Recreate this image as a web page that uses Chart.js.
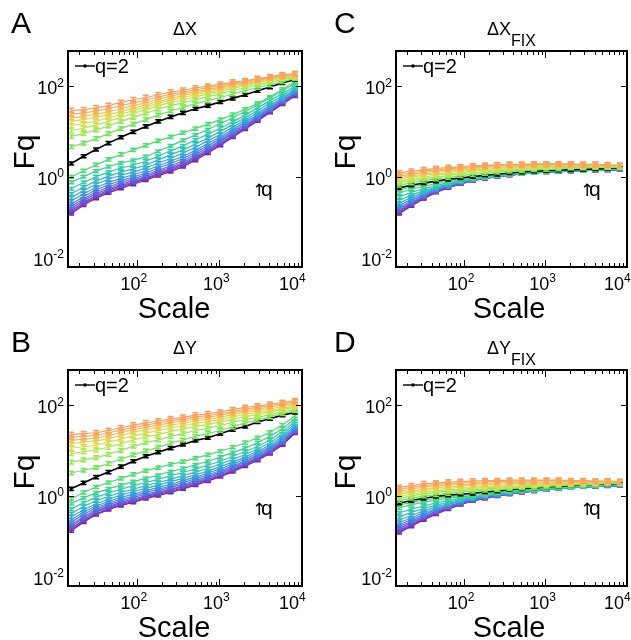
<!DOCTYPE html>
<html>
<head>
<meta charset="utf-8">
<script src="https://cdn.jsdelivr.net/npm/chart.js@4.4.1/dist/chart.umd.min.js"></script>
<style>
  html, body { margin: 0; padding: 0; background: #fff; }
  #wrap { position: relative; width: 631px; height: 640px; overflow: hidden; }
  canvas { position: absolute; }
</style>
</head>
<body>
<div id="wrap">
  <canvas id="panelA" width="316" height="320" style="left:0;top:0"></canvas>
  <canvas id="panelB" width="316" height="320" style="left:0;top:320px"></canvas>
  <canvas id="panelC" width="315" height="320" style="left:316px;top:0"></canvas>
  <canvas id="panelD" width="315" height="320" style="left:316px;top:320px"></canvas>
</div>
<script>
// Window sizes (scale) used by the fluctuation analysis
const scales = [16, 22.6, 32, 45.3, 64, 90.5, 128, 181, 256, 362, 512, 724, 1024, 1448, 2048, 2896, 4096, 5793, 8192];
// Moment orders, one curve each
const qValues = [-10, -9, -8, -7, -6, -5, -4, -3, -2, -1, 0, 1, 2, 3, 4, 5, 6, 7, 8, 9, 10];
// Half-width of the error bars, in decades, per q
const fqErr = [0.03, 0.03, 0.03, 0.03, 0.03, 0.03, 0.03, 0.03, 0.03, 0.03, 0.03, 0.035, 0.035, 0.04, 0.04, 0.045, 0.045, 0.05, 0.05, 0.05, 0.05];
// Axis tick exponents
const xTickExp = [2, 3, 4];
const yTickExp = [-2, 0, 2];

// log10(Fq), one row per q (q = -10 ... 10), one column per scale
const log10FqDX = [
  [-0.82,-0.63,-0.48,-0.36,-0.26,-0.17,-0.08,0.02,0.11,0.22,0.36,0.52,0.69,0.87,1.05,1.23,1.42,1.60,1.78],
  [-0.79,-0.60,-0.45,-0.33,-0.23,-0.14,-0.05,0.05,0.14,0.25,0.39,0.55,0.71,0.89,1.07,1.25,1.44,1.62,1.79],
  [-0.75,-0.57,-0.42,-0.30,-0.20,-0.12,-0.03,0.07,0.17,0.28,0.42,0.57,0.74,0.91,1.09,1.27,1.45,1.63,1.81],
  [-0.71,-0.53,-0.38,-0.27,-0.17,-0.09,0.00,0.11,0.20,0.31,0.45,0.60,0.77,0.94,1.11,1.29,1.47,1.65,1.83],
  [-0.66,-0.49,-0.34,-0.23,-0.13,-0.05,0.04,0.14,0.24,0.35,0.49,0.64,0.80,0.97,1.14,1.31,1.49,1.67,1.84],
  [-0.61,-0.44,-0.29,-0.18,-0.09,-0.01,0.08,0.19,0.29,0.40,0.53,0.68,0.84,1.00,1.17,1.34,1.52,1.69,1.87],
  [-0.54,-0.38,-0.24,-0.13,-0.04,0.04,0.13,0.24,0.34,0.45,0.58,0.73,0.88,1.04,1.21,1.37,1.55,1.72,1.89],
  [-0.47,-0.31,-0.17,-0.06,0.03,0.10,0.19,0.30,0.40,0.52,0.65,0.79,0.93,1.09,1.25,1.41,1.58,1.75,1.92],
  [-0.38,-0.23,-0.10,0.01,0.10,0.17,0.25,0.37,0.48,0.59,0.72,0.85,1.00,1.15,1.30,1.46,1.63,1.79,1.96],
  [-0.27,-0.13,0.00,0.10,0.19,0.25,0.34,0.45,0.57,0.68,0.81,0.94,1.07,1.21,1.36,1.52,1.68,1.84,2.00],
  [-0.13,0.00,0.12,0.22,0.30,0.36,0.44,0.56,0.68,0.80,0.92,1.04,1.17,1.30,1.44,1.59,1.74,1.90,2.06],
  [-0.01,0.13,0.26,0.38,0.49,0.59,0.69,0.79,0.88,0.97,1.06,1.16,1.26,1.37,1.49,1.62,1.76,1.93,2.10],
  [0.29,0.45,0.60,0.74,0.87,0.99,1.11,1.22,1.32,1.41,1.50,1.57,1.65,1.73,1.81,1.90,1.98,2.07,2.15],
  [0.66,0.74,0.84,0.95,1.06,1.16,1.26,1.36,1.45,1.53,1.61,1.68,1.75,1.83,1.90,1.97,2.03,2.10,2.17],
  [0.89,0.95,1.03,1.12,1.22,1.31,1.40,1.49,1.57,1.63,1.70,1.77,1.83,1.905,1.965,2.03,2.085,2.145,2.19],
  [1.02,1.07,1.14,1.22,1.31,1.40,1.48,1.57,1.64,1.70,1.765,1.83,1.885,1.955,2.01,2.07,2.12,2.175,2.205],
  [1.13,1.17,1.23,1.30,1.38,1.46,1.54,1.62,1.69,1.75,1.81,1.87,1.92,1.985,2.035,2.09,2.14,2.19,2.22],
  [1.22,1.26,1.31,1.37,1.44,1.51,1.58,1.66,1.73,1.79,1.845,1.90,1.95,2.01,2.055,2.11,2.155,2.205,2.235],
  [1.30,1.33,1.38,1.43,1.50,1.57,1.63,1.71,1.78,1.83,1.88,1.93,1.98,2.04,2.08,2.13,2.175,2.22,2.25],
  [1.38,1.41,1.45,1.50,1.57,1.63,1.69,1.76,1.82,1.87,1.92,1.97,2.01,2.06,2.10,2.15,2.19,2.235,2.265],
  [1.46,1.48,1.52,1.57,1.64,1.70,1.75,1.81,1.87,1.91,1.96,2.00,2.04,2.09,2.12,2.17,2.21,2.25,2.28]
];

const log10FqDY = [
  [-0.78,-0.59,-0.42,-0.31,-0.22,-0.15,-0.07,0.00,0.07,0.15,0.23,0.32,0.42,0.53,0.65,0.78,0.93,1.12,1.38],
  [-0.75,-0.56,-0.40,-0.29,-0.20,-0.13,-0.05,0.02,0.09,0.17,0.25,0.34,0.44,0.55,0.67,0.80,0.95,1.14,1.40],
  [-0.72,-0.54,-0.37,-0.26,-0.18,-0.10,-0.03,0.05,0.12,0.20,0.28,0.36,0.46,0.57,0.69,0.82,0.97,1.16,1.41],
  [-0.68,-0.50,-0.34,-0.24,-0.15,-0.08,0.00,0.07,0.14,0.22,0.30,0.39,0.49,0.60,0.71,0.84,0.99,1.18,1.43],
  [-0.64,-0.47,-0.31,-0.20,-0.12,-0.04,0.03,0.10,0.18,0.25,0.33,0.42,0.52,0.63,0.74,0.87,1.02,1.20,1.45],
  [-0.59,-0.42,-0.27,-0.17,-0.08,-0.01,0.07,0.14,0.21,0.29,0.37,0.46,0.55,0.66,0.77,0.90,1.05,1.23,1.48],
  [-0.54,-0.37,-0.23,-0.13,-0.04,0.03,0.11,0.18,0.25,0.33,0.41,0.50,0.59,0.70,0.81,0.94,1.08,1.26,1.51],
  [-0.47,-0.32,-0.18,-0.08,0.01,0.09,0.16,0.23,0.31,0.38,0.46,0.54,0.64,0.74,0.85,0.98,1.12,1.30,1.54],
  [-0.40,-0.24,-0.11,-0.02,0.07,0.14,0.22,0.29,0.36,0.44,0.52,0.60,0.70,0.80,0.91,1.03,1.17,1.35,1.59],
  [-0.30,-0.16,-0.04,0.06,0.14,0.22,0.29,0.36,0.44,0.51,0.59,0.67,0.76,0.87,0.97,1.09,1.23,1.41,1.64],
  [-0.18,-0.05,0.06,0.15,0.23,0.31,0.38,0.45,0.53,0.60,0.68,0.76,0.85,0.95,1.05,1.17,1.31,1.48,1.70],
  [-0.07,0.07,0.19,0.29,0.38,0.47,0.55,0.62,0.69,0.75,0.83,0.90,0.98,1.07,1.17,1.28,1.40,1.56,1.76],
  [0.15,0.28,0.41,0.52,0.64,0.76,0.87,0.96,1.05,1.13,1.22,1.28,1.37,1.46,1.53,1.63,1.70,1.78,1.84],
  [0.50,0.56,0.62,0.71,0.81,0.90,0.99,1.07,1.16,1.23,1.31,1.37,1.44,1.52,1.61,1.67,1.74,1.81,1.88],
  [0.74,0.79,0.84,0.91,1.00,1.09,1.17,1.23,1.31,1.37,1.44,1.49,1.55,1.62,1.68,1.73,1.79,1.85,1.91],
  [0.93,0.97,1.01,1.07,1.15,1.23,1.30,1.35,1.42,1.47,1.53,1.57,1.63,1.69,1.75,1.79,1.85,1.90,1.95],
  [1.05,1.08,1.11,1.18,1.25,1.32,1.38,1.44,1.50,1.54,1.60,1.64,1.68,1.74,1.80,1.84,1.88,1.93,1.98],
  [1.15,1.18,1.21,1.26,1.33,1.40,1.46,1.50,1.56,1.60,1.65,1.69,1.73,1.79,1.84,1.88,1.92,1.97,2.01],
  [1.22,1.25,1.27,1.33,1.39,1.46,1.51,1.56,1.61,1.65,1.70,1.73,1.78,1.83,1.88,1.91,1.96,2.00,2.04],
  [1.29,1.31,1.33,1.39,1.45,1.51,1.56,1.61,1.66,1.69,1.74,1.77,1.81,1.86,1.91,1.95,1.99,2.03,2.07],
  [1.35,1.37,1.39,1.44,1.50,1.56,1.61,1.65,1.70,1.73,1.78,1.81,1.85,1.90,1.95,1.98,2.02,2.06,2.10]
];

const log10FqDXfix = [
  [-0.82,-0.65,-0.49,-0.35,-0.25,-0.16,-0.09,-0.04,0.00,0.03,0.06,0.08,0.10,0.11,0.12,0.13,0.14,0.14,0.15],
  [-0.80,-0.63,-0.48,-0.34,-0.24,-0.16,-0.088,-0.039,0.001,0.031,0.06,0.08,0.10,0.11,0.12,0.13,0.14,0.141,0.152],
  [-0.77,-0.61,-0.46,-0.33,-0.24,-0.15,-0.085,-0.037,0.002,0.032,0.061,0.081,0.101,0.111,0.121,0.131,0.141,0.143,0.153],
  [-0.75,-0.59,-0.45,-0.32,-0.23,-0.15,-0.082,-0.035,0.003,0.033,0.062,0.082,0.102,0.112,0.122,0.132,0.142,0.144,0.155],
  [-0.71,-0.57,-0.43,-0.31,-0.22,-0.14,-0.079,-0.033,0.005,0.035,0.062,0.082,0.102,0.112,0.122,0.132,0.142,0.146,0.157],
  [-0.68,-0.54,-0.40,-0.29,-0.21,-0.13,-0.075,-0.031,0.006,0.036,0.063,0.083,0.103,0.113,0.123,0.133,0.143,0.148,0.159],
  [-0.64,-0.50,-0.38,-0.27,-0.19,-0.12,-0.07,-0.028,0.008,0.038,0.064,0.084,0.104,0.114,0.124,0.134,0.144,0.15,0.162],
  [-0.59,-0.46,-0.35,-0.25,-0.18,-0.11,-0.065,-0.025,0.010,0.040,0.065,0.085,0.105,0.115,0.125,0.135,0.145,0.153,0.165],
  [-0.53,-0.41,-0.31,-0.23,-0.16,-0.10,-0.058,-0.021,0.013,0.043,0.066,0.086,0.106,0.116,0.126,0.136,0.146,0.156,0.169],
  [-0.45,-0.35,-0.27,-0.20,-0.14,-0.09,-0.05,-0.016,0.016,0.046,0.068,0.088,0.108,0.118,0.128,0.138,0.148,0.16,0.174],
  [-0.36,-0.28,-0.21,-0.16,-0.11,-0.07,-0.04,-0.01,0.02,0.05,0.07,0.09,0.11,0.12,0.13,0.14,0.15,0.165,0.18],
  [-0.30,-0.23,-0.17,-0.12,-0.08,-0.05,-0.02,0.01,0.03,0.06,0.08,0.10,0.12,0.13,0.14,0.15,0.16,0.17,0.185],
  [-0.25,-0.19,-0.14,-0.10,-0.06,-0.03,0.00,0.03,0.05,0.08,0.10,0.12,0.13,0.14,0.15,0.16,0.17,0.18,0.19],
  [-0.19,-0.14,-0.09,-0.05,-0.02,0.02,0.05,0.07,0.10,0.12,0.13,0.15,0.16,0.17,0.19,0.19,0.20,0.20,0.20],
  [-0.14,-0.09,-0.05,-0.01,0.02,0.06,0.09,0.11,0.13,0.15,0.16,0.18,0.19,0.20,0.20,0.20,0.21,0.21,0.21],
  [-0.10,-0.05,-0.01,0.03,0.06,0.09,0.12,0.14,0.16,0.18,0.19,0.20,0.21,0.22,0.22,0.22,0.23,0.22,0.22],
  [-0.06,-0.01,0.03,0.06,0.09,0.12,0.15,0.16,0.18,0.20,0.21,0.22,0.23,0.23,0.24,0.23,0.24,0.23,0.23],
  [-0.03,0.02,0.05,0.09,0.12,0.14,0.17,0.19,0.20,0.22,0.22,0.24,0.24,0.25,0.25,0.24,0.25,0.24,0.235],
  [0.01,0.05,0.09,0.12,0.15,0.17,0.20,0.21,0.23,0.24,0.24,0.25,0.26,0.26,0.26,0.25,0.26,0.25,0.24],
  [0.04,0.08,0.12,0.15,0.17,0.20,0.22,0.23,0.25,0.26,0.26,0.27,0.27,0.27,0.27,0.26,0.26,0.25,0.245],
  [0.08,0.12,0.15,0.18,0.20,0.22,0.24,0.25,0.26,0.27,0.27,0.28,0.28,0.28,0.28,0.27,0.27,0.26,0.25]
];

const log10FqDYfix = [
  [-0.82,-0.68,-0.54,-0.41,-0.30,-0.20,-0.12,-0.06,-0.01,0.03,0.07,0.10,0.13,0.15,0.17,0.19,0.20,0.21,0.22],
  [-0.79,-0.66,-0.52,-0.40,-0.29,-0.19,-0.11,-0.06,-0.007,0.033,0.072,0.101,0.131,0.151,0.171,0.191,0.201,0.212,0.222],
  [-0.77,-0.63,-0.50,-0.38,-0.28,-0.18,-0.11,-0.05,-0.003,0.036,0.074,0.103,0.132,0.152,0.172,0.192,0.202,0.213,0.223],
  [-0.73,-0.60,-0.48,-0.36,-0.26,-0.17,-0.10,-0.05,0.001,0.04,0.076,0.105,0.133,0.153,0.173,0.193,0.203,0.215,0.225],
  [-0.69,-0.57,-0.45,-0.34,-0.25,-0.16,-0.09,-0.04,0.006,0.044,0.079,0.107,0.135,0.155,0.175,0.195,0.205,0.217,0.227],
  [-0.65,-0.53,-0.42,-0.31,-0.23,-0.15,-0.08,-0.03,0.012,0.049,0.082,0.109,0.136,0.156,0.176,0.196,0.206,0.219,0.229],
  [-0.60,-0.49,-0.38,-0.29,-0.20,-0.13,-0.07,-0.02,0.018,0.054,0.086,0.112,0.138,0.158,0.178,0.198,0.208,0.222,0.232],
  [-0.54,-0.44,-0.34,-0.25,-0.18,-0.11,-0.06,-0.01,0.026,0.06,0.09,0.115,0.14,0.16,0.18,0.20,0.21,0.225,0.235],
  [-0.47,-0.37,-0.29,-0.21,-0.15,-0.09,-0.04,0.00,0.035,0.07,0.10,0.119,0.143,0.163,0.183,0.203,0.213,0.229,0.239],
  [-0.38,-0.30,-0.23,-0.16,-0.11,-0.06,-0.02,0.01,0.05,0.08,0.10,0.124,0.146,0.166,0.186,0.206,0.216,0.234,0.244],
  [-0.27,-0.20,-0.15,-0.10,-0.06,-0.03,0.00,0.03,0.06,0.09,0.11,0.13,0.15,0.17,0.19,0.21,0.22,0.24,0.25],
  [-0.21,-0.15,-0.10,-0.06,-0.03,0.00,0.03,0.06,0.08,0.11,0.13,0.15,0.17,0.19,0.20,0.22,0.23,0.25,0.26],
  [-0.17,-0.11,-0.06,-0.02,0.01,0.03,0.05,0.08,0.10,0.13,0.15,0.17,0.19,0.21,0.22,0.24,0.25,0.26,0.27],
  [-0.11,-0.06,-0.01,0.02,0.05,0.08,0.10,0.12,0.13,0.15,0.17,0.18,0.20,0.22,0.23,0.24,0.25,0.27,0.275],
  [-0.06,-0.01,0.04,0.07,0.10,0.11,0.13,0.15,0.16,0.18,0.19,0.21,0.22,0.24,0.24,0.26,0.26,0.28,0.28],
  [-0.02,0.03,0.07,0.10,0.13,0.14,0.16,0.18,0.18,0.20,0.21,0.23,0.24,0.25,0.25,0.27,0.27,0.28,0.285],
  [0.02,0.07,0.11,0.14,0.16,0.18,0.19,0.21,0.21,0.23,0.24,0.25,0.26,0.27,0.27,0.28,0.28,0.29,0.29],
  [0.06,0.10,0.15,0.17,0.20,0.21,0.23,0.24,0.25,0.26,0.27,0.27,0.28,0.29,0.29,0.29,0.29,0.30,0.295],
  [0.10,0.14,0.19,0.21,0.23,0.25,0.26,0.27,0.28,0.29,0.29,0.30,0.30,0.31,0.30,0.31,0.30,0.31,0.30],
  [0.14,0.18,0.22,0.25,0.27,0.28,0.29,0.31,0.31,0.32,0.32,0.32,0.33,0.33,0.32,0.32,0.31,0.31,0.305],
  [0.18,0.22,0.26,0.28,0.30,0.31,0.32,0.33,0.33,0.34,0.34,0.34,0.34,0.34,0.33,0.33,0.32,0.32,0.31]
];

// Rainbow from low q (violet) to high q (orange); q = 2 is drawn in black
const qColors = ['#7a1fa0','#7b33b6','#7346c6','#6958d4','#5b6ade','#4d7fe2','#3f95de','#36a9d4','#34bac2','#38c8aa','#42d290','#50dc72','#5ee060','#74e45a','#98e656','#b8e553','#d4df52','#e7d253','#f1c058','#f5ae60','#f6a068'];

const FONT = '"Liberation Sans", Arial, Helvetica, sans-serif';

// Draws error bars right after each curve so later curves overlap them
const errorBars = {
  id: 'errorBars',
  afterDatasetDraw(chart, args) {
    const ds = chart.data.datasets[args.index];
    const { ctx, chartArea: a, scales: { y } } = chart;
    ctx.save();
    ctx.beginPath();
    ctx.rect(a.left, a.top, a.right - a.left, a.bottom - a.top);
    ctx.clip();
    ctx.strokeStyle = ds.borderColor;
    ctx.lineWidth = 1.5;
    args.meta.data.forEach((pt, j) => {
      const v = ds.logValues[j];
      const yt = y.getPixelForValue(Math.pow(10, v + ds.err));
      const yb = y.getPixelForValue(Math.pow(10, v - ds.err));
      const x = pt.x, w = 3;
      ctx.beginPath();
      ctx.moveTo(x, yt); ctx.lineTo(x, yb);
      ctx.moveTo(x - w, yt); ctx.lineTo(x + w, yt);
      ctx.moveTo(x - w, yb); ctx.lineTo(x + w, yb);
      ctx.stroke();
    });
    ctx.restore();
  }
};

function supText(ctx, exp, x, y, align, size) {
  const base = '10', sup = String(exp);
  ctx.font = size + 'px ' + FONT;
  const wb = ctx.measureText(base).width;
  const ss = Math.round(size * 0.68);
  ctx.font = ss + 'px ' + FONT;
  const ws = ctx.measureText(sup).width;
  let left = x;
  if (align === 'right') left = x - wb - ws;
  else if (align === 'center') left = x - (wb + ws) / 2;
  ctx.textAlign = 'left';
  ctx.textBaseline = 'alphabetic';
  ctx.font = size + 'px ' + FONT;
  ctx.fillText(base, left, y);
  ctx.font = ss + 'px ' + FONT;
  ctx.fillText(sup, left + wb, y - size * 0.42);
}

// Box, inward ticks, tick labels and all panel texts
const decorations = {
  id: 'decorations',
  afterDraw(chart, args, o) {
    const { ctx, chartArea: a, scales: { x, y } } = chart;
    ctx.save();
    ctx.fillStyle = '#000';
    ctx.strokeStyle = '#000';
    ctx.lineWidth = 1;
    const seg = (x1, y1, x2, y2) => { ctx.beginPath(); ctx.moveTo(x1, y1); ctx.lineTo(x2, y2); ctx.stroke(); };
    for (let k = 1; k <= 4; k++) {
      for (let m = 1; m <= 9; m++) {
        const v = m * Math.pow(10, k);
        if (v < x.min || v > x.max) continue;
        const px = Math.round(x.getPixelForValue(v)) + 0.5;
        const len = m === 1 ? 7 : 4;
        seg(px, a.bottom, px, a.bottom - len);
        seg(px, a.top, px, a.top + len);
      }
    }
    yTickExp.forEach(k => {
      const py = Math.round(y.getPixelForValue(Math.pow(10, k))) + 0.5;
      seg(a.left, py, a.left + 6, py);
      seg(a.right, py, a.right - 6, py);
    });
    ctx.lineWidth = 2;
    ctx.strokeRect(a.left, a.top, a.right - a.left, a.bottom - a.top);

    // tick labels
    xTickExp.forEach(k => {
      const px = x.getPixelForValue(Math.pow(10, k));
      if (k === 4) supText(ctx, k, px - 23, a.bottom + 23, 'left', 18);
      else supText(ctx, k, px - 3, a.bottom + 23, 'center', 18);
    });
    yTickExp.forEach(k => {
      const py = y.getPixelForValue(Math.pow(10, k));
      supText(ctx, k, a.left - 4, k === -2 ? py - 1 : py + 8, 'right', 18);
    });

    // axis titles
    ctx.font = '29px ' + FONT;
    ctx.textAlign = 'center';
    ctx.textBaseline = 'alphabetic';
    ctx.fillText('Scale', o.scaleX, a.bottom + 51);
    ctx.save();
    ctx.translate(o.fqX, o.fqY);
    ctx.rotate(-Math.PI / 2);
    ctx.font = '30px ' + FONT;
    ctx.fillText('Fq', 0, 0);
    ctx.restore();

    // panel letter
    ctx.textAlign = 'left';
    ctx.font = '30px ' + FONT;
    ctx.fillText(o.letter, o.letterX, o.letterY);

    // panel title with optional subscript
    ctx.font = '18px ' + FONT;
    const wMain = ctx.measureText(o.title).width;
    ctx.font = '16px ' + FONT;
    const wSub = o.sub ? ctx.measureText(o.sub).width : 0;
    const cx = (a.left + a.right) / 2;
    const tl = cx - (wMain + wSub) / 2;
    ctx.font = '18px ' + FONT;
    ctx.fillText(o.title, tl, a.top - 16);
    if (o.sub) {
      ctx.font = '16px ' + FONT;
      ctx.fillText(o.sub, tl + wMain, a.top - 5);
    }

    // legend entry for q = 2
    ctx.lineWidth = 1.4;
    seg(a.left + 7, a.top + 15, a.left + 27, a.top + 15);
    ctx.beginPath();
    ctx.arc(a.left + 17, a.top + 15, 1.8, 0, Math.PI * 2);
    ctx.fill();
    ctx.font = '20px ' + FONT;
    ctx.fillText('q=2', a.left + 27, a.top + 22);

    // direction of increasing q
    ctx.font = '17px "DejaVu Sans", sans-serif';
    ctx.fillText('\u2191', a.left + 184, a.top + 145);
    ctx.font = '21px ' + FONT;
    ctx.fillText('q', a.left + 193, a.top + 145);
    ctx.restore();
  }
};

function makePanel(id, rows, opts, pad) {
  const datasets = rows.map((row, i) => {
    const isTwo = qValues[i] === 2;
    const c = isTwo ? '#000000' : qColors[i];
    return {
      label: 'q=' + qValues[i],
      data: row.map((v, j) => ({ x: scales[j], y: Math.pow(10, v) })),
      logValues: row,
      err: fqErr[i],
      borderColor: c,
      backgroundColor: c,
      borderWidth: isTwo ? 1.6 : 1.2,
      pointRadius: isTwo ? 1.6 : 0,
      pointBorderWidth: 0,
      tension: 0,
      order: rows.length - 1 - i
    };
  });
  new Chart(document.getElementById(id), {
    type: 'line',
    data: { datasets },
    options: {
      responsive: false,
      animation: false,
      events: [],
      layout: { padding: pad },
      plugins: { legend: { display: false }, title: { display: false }, tooltip: { enabled: false }, decorations: opts },
      scales: {
        x: { type: 'logarithmic', min: 14.65, max: 10000, display: false },
        y: { type: 'logarithmic', min: 0.01, max: 600, display: false }
      }
    },
    plugins: [errorBars, decorations]
  });
}

makePanel('panelA', log10FqDX,
  { letter: 'A', letterX: 11, letterY: 33, title: '\u0394X', sub: '', scaleX: 174, fqX: 34, fqY: 152 },
  { left: 68, top: 51, right: 14, bottom: 53 });
makePanel('panelB', log10FqDY,
  { letter: 'B', letterX: 11, letterY: 32, title: '\u0394Y', sub: '', scaleX: 174, fqX: 34, fqY: 152 },
  { left: 68, top: 50, right: 14, bottom: 54 });
makePanel('panelC', log10FqDXfix,
  { letter: 'C', letterX: 18, letterY: 33, title: '\u0394X', sub: 'FIX', scaleX: 193, fqX: 39, fqY: 152 },
  { left: 80, top: 51, right: 1, bottom: 53 });
makePanel('panelD', log10FqDYfix,
  { letter: 'D', letterX: 18, letterY: 32, title: '\u0394Y', sub: 'FIX', scaleX: 193, fqX: 39, fqY: 152 },
  { left: 80, top: 50, right: 1, bottom: 54 });
</script>
</body>
</html>
